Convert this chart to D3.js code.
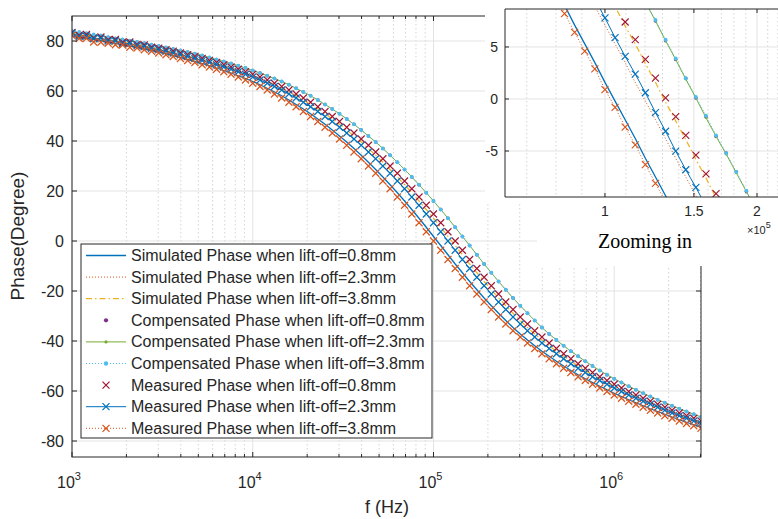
<!DOCTYPE html>
<html>
<head>
<meta charset="utf-8">
<script src="https://cdn.jsdelivr.net/npm/d3@7/dist/d3.min.js"></script>
<style>
  body { margin: 0; background: #fff; }
  svg { font-family: "Liberation Sans", Arial, Helvetica, sans-serif; }
</style>
</head>
<body>
<svg id="chart" width="778" height="519"></svg>
<script>
// ---------- data ----------
// measurement frequencies, 25 per decade
var freqHz = [
  1000, 1096, 1202, 1318, 1445, 1585, 1738, 1905, 2089, 2291, 2512, 2754, 3020, 3311, 3631, 3981, 4365, 4786, 5248, 5754, 6310, 6918, 7586, 8318, 9120,
  10000, 10965, 12023, 13183, 14454, 15849, 17378, 19055, 20893, 22909, 25119, 27542, 30200, 33113, 36308, 39811, 43652, 47863, 52481, 57544, 63096, 69183, 75858, 83176, 91201,
  100000, 109648, 120226, 131826, 144544, 158489, 173780, 190546, 208930, 229087, 251189, 275423, 301995, 331131, 363078, 398107, 436516, 478630, 524807, 575440, 630957, 691831, 758578, 831764, 912011,
  1000000, 1096478, 1202264, 1318257, 1445440, 1584893, 1737801, 1905461, 2089296, 2290868, 2511886, 2754229, 3019952
];

var simPhase08 = [
  81.9, 81.5, 81.0, 80.6, 80.1, 79.6, 79.1, 78.5, 78.0, 77.4,
  76.8, 76.2, 75.6, 74.9, 74.2, 73.4, 72.6, 71.8, 71.0, 70.1,
  69.2, 68.2, 67.2, 66.1, 65.0, 63.8, 62.5, 61.1, 59.6, 58.1,
  56.4, 54.6, 52.8, 50.9, 48.8, 46.7, 44.4, 42.0, 39.6, 37.0,
  34.3, 31.5, 28.6, 25.6, 22.5, 19.3, 16.0, 12.6, 9.1, 5.5,
  1.8, -1.8, -5.5, -9.2, -12.7, -16.2, -19.5, -22.8, -25.9, -28.9,
  -31.8, -34.6, -37.2, -39.6, -41.9, -44.1, -46.1, -48.1, -50.0, -51.8,
  -53.5, -55.1, -56.6, -58.1, -59.5, -60.9, -62.2, -63.5, -64.7, -65.9,
  -67.1, -68.2, -69.3, -70.4, -71.5, -72.5, -73.5, -74.4
];
var simPhase23 = [
  82.6, 82.1, 81.7, 81.3, 80.8, 80.3, 79.8, 79.3, 78.8, 78.3,
  77.7, 77.1, 76.5, 75.9, 75.2, 74.5, 73.8, 73.0, 72.2, 71.4,
  70.5, 69.6, 68.7, 67.7, 66.7, 65.6, 64.4, 63.1, 61.8, 60.4,
  58.8, 57.2, 55.5, 53.7, 51.8, 49.8, 47.8, 45.5, 43.2, 40.8,
  38.3, 35.6, 32.9, 30.0, 27.1, 24.0, 20.9, 17.6, 14.3, 10.8,
  7.3, 3.7, 0.0, -3.7, -7.4, -11.0, -14.5, -17.9, -21.2, -24.4,
  -27.4, -30.4, -33.2, -35.9, -38.4, -40.8, -43.0, -45.1, -47.1, -49.1,
  -50.9, -52.6, -54.3, -55.8, -57.3, -58.8, -60.2, -61.6, -62.9, -64.1,
  -65.3, -66.5, -67.7, -68.8, -69.9, -70.9, -72.0, -73.0
];
var simPhase38 = [
  82.8, 82.3, 81.9, 81.5, 81.0, 80.6, 80.1, 79.6, 79.1, 78.5,
  78.0, 77.4, 76.8, 76.2, 75.6, 74.9, 74.2, 73.4, 72.6, 71.8,
  71.0, 70.1, 69.2, 68.2, 67.2, 66.1, 65.0, 63.8, 62.5, 61.1,
  59.6, 58.1, 56.4, 54.6, 52.8, 50.9, 48.8, 46.7, 44.4, 42.0,
  39.6, 37.0, 34.3, 31.5, 28.6, 25.6, 22.5, 19.3, 16.0, 12.6,
  9.1, 5.5, 1.8, -1.8, -5.5, -9.2, -12.7, -16.2, -19.5, -22.8,
  -25.9, -28.9, -31.8, -34.6, -37.2, -39.6, -41.9, -44.1, -46.1, -48.1,
  -50.0, -51.8, -53.5, -55.1, -56.6, -58.1, -59.5, -60.9, -62.2, -63.5,
  -64.7, -65.9, -67.1, -68.2, -69.3, -70.4, -71.5, -72.5
];
var compPhase08 = [
  83.6, 83.2, 82.8, 82.3, 81.9, 81.5, 81.0, 80.6, 80.1, 79.6,
  79.1, 78.5, 78.0, 77.4, 76.8, 76.2, 75.6, 74.9, 74.2, 73.4,
  72.6, 71.8, 71.0, 70.1, 69.2, 68.2, 67.2, 66.1, 65.0, 63.8,
  62.5, 61.1, 59.6, 58.1, 56.4, 54.6, 52.8, 50.9, 48.8, 46.7,
  44.4, 42.0, 39.6, 37.0, 34.3, 31.5, 28.6, 25.6, 22.5, 19.3,
  16.0, 12.6, 9.1, 5.5, 1.8, -1.8, -5.5, -9.2, -12.7, -16.2,
  -19.5, -22.8, -25.9, -28.9, -31.8, -34.6, -37.2, -39.6, -41.9, -44.1,
  -46.1, -48.1, -50.0, -51.8, -53.5, -55.1, -56.6, -58.1, -59.5, -60.9,
  -62.2, -63.5, -64.7, -65.9, -67.1, -68.2, -69.3, -70.4
];
var compPhase23 = [
  83.6, 83.2, 82.8, 82.3, 81.9, 81.5, 81.0, 80.6, 80.1, 79.6,
  79.1, 78.5, 78.0, 77.4, 76.8, 76.2, 75.6, 74.9, 74.2, 73.4,
  72.6, 71.8, 71.0, 70.1, 69.2, 68.2, 67.2, 66.1, 65.0, 63.8,
  62.5, 61.1, 59.6, 58.1, 56.4, 54.6, 52.8, 50.9, 48.8, 46.7,
  44.4, 42.0, 39.6, 37.0, 34.3, 31.5, 28.6, 25.6, 22.5, 19.3,
  16.0, 12.6, 9.1, 5.5, 1.8, -1.8, -5.5, -9.2, -12.7, -16.2,
  -19.5, -22.8, -25.9, -28.9, -31.8, -34.6, -37.2, -39.6, -41.9, -44.1,
  -46.1, -48.1, -50.0, -51.8, -53.5, -55.1, -56.6, -58.1, -59.5, -60.9,
  -62.2, -63.5, -64.7, -65.9, -67.1, -68.2, -69.3, -70.4
];
var compPhase38 = [
  84.0, 83.6, 83.1, 82.6, 82.2, 81.5, 81.0, 80.6, 80.1, 79.6,
  79.1, 78.5, 78.0, 77.4, 76.8, 76.2, 75.6, 74.9, 74.2, 73.4,
  72.6, 71.8, 71.0, 70.1, 69.2, 68.2, 67.2, 66.1, 65.0, 63.8,
  62.5, 61.1, 59.6, 58.1, 56.4, 54.6, 52.8, 50.9, 48.8, 46.7,
  44.4, 42.0, 39.6, 37.0, 34.3, 31.5, 28.6, 25.6, 22.5, 19.3,
  16.0, 12.6, 9.1, 5.5, 1.8, -1.8, -5.5, -9.2, -12.7, -16.2,
  -19.5, -22.8, -25.9, -28.9, -31.8, -34.6, -37.2, -39.6, -41.9, -44.1,
  -46.1, -48.1, -50.0, -51.8, -53.5, -55.1, -56.6, -58.1, -59.5, -60.9,
  -62.2, -63.5, -64.7, -65.9, -67.1, -68.2, -69.3, -70.4
];
var measPhase08 = [
  83.4, 82.3, 82.6, 81.2, 81.6, 80.5, 80.6, 79.5, 79.6, 78.6,
  78.4, 77.5, 77.1, 76.5, 75.9, 75.2, 74.5, 73.8, 73.0, 72.2,
  71.4, 70.5, 69.6, 68.7, 67.7, 66.7, 65.6, 64.4, 63.1, 61.8,
  60.4, 58.8, 57.2, 55.5, 53.7, 51.8, 49.8, 47.8, 45.5, 43.2,
  40.8, 38.3, 35.6, 32.9, 30.0, 27.1, 24.0, 20.9, 17.6, 14.3,
  10.8, 7.3, 3.7, 0.0, -3.7, -7.4, -11.0, -14.5, -17.9, -21.2,
  -24.4, -27.4, -30.4, -33.2, -35.9, -38.4, -40.8, -43.0, -45.1, -47.1,
  -49.1, -50.9, -52.6, -54.3, -55.8, -57.3, -58.8, -60.2, -61.6, -62.9,
  -64.1, -65.3, -66.5, -67.7, -68.8, -69.9, -70.9, -72.0
];
var measPhase23 = [
  83.1, 81.8, 82.0, 80.9, 81.1, 80.0, 80.1, 79.0, 79.0, 78.1,
  77.8, 77.0, 76.5, 75.9, 75.2, 74.5, 73.8, 73.0, 72.2, 71.4,
  70.5, 69.6, 68.7, 67.7, 66.7, 65.6, 64.4, 63.1, 61.8, 60.4,
  58.8, 57.2, 55.5, 53.7, 51.8, 49.8, 47.8, 45.5, 43.2, 40.8,
  38.3, 35.6, 32.9, 30.0, 27.1, 24.0, 20.9, 17.6, 14.3, 10.8,
  7.3, 3.7, 0.0, -3.7, -7.4, -11.0, -14.5, -17.9, -21.2, -24.4,
  -27.4, -30.4, -33.2, -35.9, -38.4, -40.8, -43.0, -45.1, -47.1, -49.1,
  -50.9, -52.6, -54.3, -55.8, -57.3, -58.8, -60.2, -61.6, -62.9, -64.1,
  -65.3, -66.5, -67.7, -68.8, -69.9, -70.9, -72.0, -73.0
];
var measPhase38 = [
  82.2, 81.0, 81.1, 79.6, 79.5, 79.1, 78.5, 78.4, 77.5, 77.2,
  76.5, 75.9, 75.2, 74.5, 73.8, 73.0, 72.2, 71.4, 70.5, 69.6,
  68.7, 67.7, 66.7, 65.6, 64.4, 63.1, 61.8, 60.4, 58.8, 57.2,
  55.5, 53.7, 51.8, 49.8, 47.8, 45.5, 43.2, 40.8, 38.3, 35.6,
  32.9, 30.0, 27.1, 24.0, 20.9, 17.6, 14.3, 10.8, 7.3, 3.7,
  0.0, -3.7, -7.4, -11.0, -14.5, -17.9, -21.2, -24.4, -27.4, -30.4,
  -33.2, -35.9, -38.4, -40.8, -43.0, -45.1, -47.1, -49.1, -50.9, -52.6,
  -54.3, -55.8, -57.3, -58.8, -60.2, -61.6, -62.9, -64.1, -65.3, -66.5,
  -67.7, -68.8, -69.9, -70.9, -72.0, -73.0, -73.9, -74.9
];

// zoomed window (inset), 50 points per decade around 1e5 Hz
var zoomFreqHz = [75858, 79433, 83176, 87096, 91201, 95499, 100000, 104713, 109648, 114815, 120226, 125893,
  131826, 138038, 144544, 151356, 158489, 165959, 173780, 181970, 190546, 199526, 208930];
var zoomSim08  = [null, 10.8, 9.0, 7.1, 5.3, 3.5, 1.6, -0.2, -2.0, -3.8, -5.7, -7.5, -9.3, -11.2, null, null, null, null, null, null, null, null, null];
var zoomSim23  = [null, null, null, null, 10.8, 8.9, 7.1, 5.3, 3.5, 1.6, -0.2, -2.0, -3.8, -5.7, -7.5, -9.3, -11.1, null, null, null, null, null, null];
var zoomSim38  = [null, null, null, null, null, null, 10.8, 8.9, 7.0, 5.3, 3.4, 1.6, -0.3, -2.1, -3.9, -5.8, -7.6, -9.5, -11.3, null, null, null, null];
var zoomComp08 = [null, null, null, null, null, null, null, null, null, null, 9.4, 7.5, 5.6, 3.8, 2.0, 0.1, -1.7, -3.6, -5.2, -7.0, -8.9, -10.7, null];
var zoomComp23 = [null, null, null, null, null, null, null, null, null, 11.2, 9.3, 7.5, 5.6, 3.8, 1.9, 0.1, -1.8, -3.6, -5.3, -7.1, -8.9, -10.7, null];
var zoomComp38 = [null, null, null, null, null, null, null, null, null, null, 9.4, 7.6, 5.7, 3.9, 2.0, 0.2, -1.6, -3.5, -5.2, -7.0, -8.8, -10.7, null];
var zoomMeas08 = [null, null, null, null, null, null, null, 9.3, 7.4, 5.7, 3.8, 2.0, 0.1, -1.7, -3.5, -5.4, -7.2, -9.1, -10.9, null, null, null, null];
var zoomMeas23 = [null, null, null, null, null, 9.6, 7.8, 5.9, 4.1, 2.4, 0.6, -1.3, -3.1, -5.0, -6.8, -8.5, -10.3, null, null, null, null, null, null];
var zoomMeas38 = [null, 10.1, 8.2, 6.4, 4.6, 2.9, 0.9, -0.8, -2.7, -4.4, -6.3, -8.1, -9.9, null, null, null, null, null, null, null, null, null, null];

var yTicks = [-80, -60, -40, -20, 0, 20, 40, 60, 80];
var xDecades = [3, 4, 5, 6];
var zoomXTicks = [1e5, 1.5e5, 2e5];
var zoomXTickLabels = ['1', '1.5', '2'];
var zoomYTicks = [-5, 0, 5];

// ---------- styles per series (legend order = draw order) ----------
var series = [
  { label: 'Simulated Phase when lift-off=0.8mm',   main: simPhase08,  zoom: zoomSim08,  color: '#0072BD', line: true,  dash: null,        mark: null, lw: 1.3 },
  { label: 'Simulated Phase when lift-off=2.3mm',   main: simPhase23,  zoom: zoomSim23,  color: '#D95319', line: true,  dash: '1,2',       mark: null },
  { label: 'Simulated Phase when lift-off=3.8mm',   main: simPhase38,  zoom: zoomSim38,  color: '#EDB120', line: true,  dash: '6,3,1.5,3', mark: null, lw: 1.2 },
  { label: 'Compensated Phase when lift-off=0.8mm', main: compPhase08, zoom: zoomComp08, color: '#7E2F8E', line: false, dash: null,        mark: 'dot', r: 1.8 },
  { label: 'Compensated Phase when lift-off=2.3mm', main: compPhase23, zoom: zoomComp23, color: '#77AC30', line: true,  dash: null,        mark: 'dot', r: 1.3 },
  { label: 'Compensated Phase when lift-off=3.8mm', main: compPhase38, zoom: zoomComp38, color: '#4DBEEE', line: true,  dash: '1,2',       mark: 'dot', r: 1.9 },
  { label: 'Measured Phase when lift-off=0.8mm',    main: measPhase08, zoom: zoomMeas08, color: '#A2142F', line: false, dash: null,        mark: 'x' },
  { label: 'Measured Phase when lift-off=2.3mm',    main: measPhase23, zoom: zoomMeas23, color: '#0072BD', line: true,  dash: null,        mark: 'x' },
  { label: 'Measured Phase when lift-off=3.8mm',    main: measPhase38, zoom: zoomMeas38, color: '#D95319', line: true,  dash: '1,2',       mark: 'x' }
];

var axisColor = '#262626';
var gridColor = '#e3e3e3';
var minorGridColor = '#c9c9c9';

var svg = d3.select('#chart');

// ---------- main axes ----------
var plot = { left: 72, right: 701, top: 16, bottom: 457 };
var x = d3.scaleLog().domain([1e3, 3019952]).range([plot.left, plot.right]);
var y = d3.scaleLinear().domain([-86.4, 90]).range([plot.bottom, plot.top]);

svg.append('defs').append('clipPath').attr('id', 'clipMain')
  .append('rect').attr('x', plot.left).attr('y', plot.top)
  .attr('width', plot.right - plot.left).attr('height', plot.bottom - plot.top);

var xAll = x.ticks(); // 1..9 x 10^k
var isMajor = function(v) { return Math.abs(Math.log10(v) - Math.round(Math.log10(v))) < 1e-6; };

var grid = svg.append('g');
grid.selectAll('.minor').data(xAll.filter(function(v) { return !isMajor(v); })).enter()
  .append('line')
  .attr('x1', function(d) { return x(d); }).attr('x2', function(d) { return x(d); })
  .attr('y1', plot.top).attr('y2', plot.bottom)
  .attr('stroke', minorGridColor).attr('stroke-width', 0.8).attr('stroke-dasharray', '1.5,2.5');
grid.selectAll('.major').data(xAll.filter(isMajor)).enter()
  .append('line')
  .attr('x1', function(d) { return x(d); }).attr('x2', function(d) { return x(d); })
  .attr('y1', plot.top).attr('y2', plot.bottom)
  .attr('stroke', gridColor).attr('stroke-width', 1);
grid.selectAll('.hgrid').data(yTicks).enter()
  .append('line')
  .attr('x1', plot.left).attr('x2', plot.right)
  .attr('y1', function(d) { return y(d); }).attr('y2', function(d) { return y(d); })
  .attr('stroke', gridColor).attr('stroke-width', 1);

// draw one set of series into a group with given scales
function drawSeries(g, xs, ys, freqs, key, markSize) {
  series.forEach(function(s) {
    var pts = freqs.map(function(f, i) { return { f: f, v: s[key][i] }; })
      .filter(function(p) { return p.v !== null && p.v !== undefined; });
    if (s.line) {
      g.append('path').datum(pts)
        .attr('fill', 'none')
        .attr('stroke', s.color)
        .attr('stroke-width', s.lw || 1)
        .attr('stroke-dasharray', s.dash)
        .attr('d', d3.line().x(function(p) { return xs(p.f); }).y(function(p) { return ys(p.v); }));
    }
    if (s.mark === 'dot') {
      g.selectAll(null).data(pts).enter().append('circle')
        .attr('cx', function(p) { return xs(p.f); })
        .attr('cy', function(p) { return ys(p.v); })
        .attr('r', s.r)
        .attr('fill', s.color);
    } else if (s.mark === 'x') {
      var m = markSize;
      g.selectAll(null).data(pts).enter().append('path')
        .attr('transform', function(p) { return 'translate(' + xs(p.f) + ',' + ys(p.v) + ')'; })
        .attr('d', 'M' + (-m) + ',' + (-m) + 'L' + m + ',' + m + 'M' + (-m) + ',' + m + 'L' + m + ',' + (-m))
        .attr('stroke', s.color)
        .attr('stroke-width', 1.1)
        .attr('fill', 'none');
    }
  });
}

var mainData = svg.append('g').attr('clip-path', 'url(#clipMain)');
drawSeries(mainData, x, y, freqHz, 'main', 3.5);

// main axes box and ticks
var ax = svg.append('g').attr('stroke', axisColor).attr('stroke-width', 1).attr('fill', 'none');
ax.append('rect').attr('x', plot.left).attr('y', plot.top)
  .attr('width', plot.right - plot.left).attr('height', plot.bottom - plot.top);
xAll.forEach(function(v) {
  var len = isMajor(v) ? 5 : 3;
  ax.append('line').attr('x1', x(v)).attr('x2', x(v)).attr('y1', plot.bottom).attr('y2', plot.bottom - len);
  ax.append('line').attr('x1', x(v)).attr('x2', x(v)).attr('y1', plot.top).attr('y2', plot.top + len);
});
yTicks.forEach(function(v) {
  ax.append('line').attr('x1', plot.left).attr('x2', plot.left + 5).attr('y1', y(v)).attr('y2', y(v));
  ax.append('line').attr('x1', plot.right).attr('x2', plot.right - 5).attr('y1', y(v)).attr('y2', y(v));
});

// tick labels
var labels = svg.append('g').attr('fill', axisColor).attr('font-size', 16);
labels.selectAll('.ylab').data(yTicks).enter().append('text')
  .attr('x', plot.left - 8).attr('y', function(d) { return y(d) + 6; })
  .attr('text-anchor', 'end')
  .text(function(d) { return d; });
xDecades.forEach(function(k) {
  var t = labels.append('text').attr('x', x(Math.pow(10, k)) - 3).attr('y', 488).attr('text-anchor', 'middle');
  t.append('tspan').text('10');
  t.append('tspan').attr('dy', -8).attr('font-size', 11).text(k);
});
labels.append('text').attr('x', 387).attr('y', 513).attr('text-anchor', 'middle')
  .attr('font-size', 18).text('f (Hz)');
labels.append('text').attr('transform', 'translate(24,236) rotate(-90)').attr('text-anchor', 'middle')
  .attr('font-size', 19).text('Phase(Degree)');

// ---------- legend ----------
var leg = { x: 81, y: 244, w: 351, h: 194, row: 21.6 };
var lg = svg.append('g');
lg.append('rect').attr('x', leg.x).attr('y', leg.y).attr('width', leg.w).attr('height', leg.h)
  .attr('fill', '#fff').attr('stroke', axisColor).attr('stroke-width', 1);
series.forEach(function(s, i) {
  var cy = leg.y + 11.5 + i * leg.row;
  if (s.line) {
    lg.append('line').attr('x1', 86).attr('x2', 126).attr('y1', cy).attr('y2', cy)
      .attr('stroke', s.color).attr('stroke-width', s.lw || 1).attr('stroke-dasharray', s.dash);
  }
  if (s.mark === 'dot') {
    lg.append('circle').attr('cx', 106).attr('cy', cy).attr('r', s.r + 0.3).attr('fill', s.color);
  } else if (s.mark === 'x') {
    lg.append('path').attr('transform', 'translate(106,' + cy + ')')
      .attr('d', 'M-3.5,-3.5L3.5,3.5M-3.5,3.5L3.5,-3.5')
      .attr('stroke', s.color).attr('stroke-width', 1.2);
  }
  lg.append('text').attr('x', 131).attr('y', cy + 5.5).attr('font-size', 16).attr('fill', axisColor)
    .text(s.label);
});

// ---------- inset (zoomed window) ----------
// white backing of the pasted inset picture
svg.append('rect').attr('x', 485).attr('y', 0).attr('width', 293).attr('height', 203).attr('fill', '#fff');
svg.append('rect').attr('x', 537).attr('y', 203).attr('width', 241).attr('height', 63).attr('fill', '#fff');

var box = { left: 505, right: 800, top: 9, bottom: 197 };
var xi = d3.scaleLog().domain([63400, 243300]).range([box.left, box.right]);
var yi = d3.scaleLinear().domain([-9.42, 8.65]).range([box.bottom, box.top]);

svg.select('defs').append('clipPath').attr('id', 'clipInset')
  .append('rect').attr('x', box.left).attr('y', box.top)
  .attr('width', box.right - box.left).attr('height', box.bottom - box.top);

var ig = svg.append('g');
var zMinor = d3.range(7, 25).map(function(k) { return k * 1e4; })
  .filter(function(v) { return zoomXTicks.indexOf(v) < 0; });
ig.selectAll('.zminor').data(zMinor).enter().append('line')
  .attr('x1', function(d) { return xi(d); }).attr('x2', function(d) { return xi(d); })
  .attr('y1', box.top).attr('y2', box.bottom)
  .attr('stroke', minorGridColor).attr('stroke-width', 0.8).attr('stroke-dasharray', '1.5,2.5');
ig.selectAll('.zmajor').data(zoomXTicks).enter().append('line')
  .attr('x1', function(d) { return xi(d); }).attr('x2', function(d) { return xi(d); })
  .attr('y1', box.top).attr('y2', box.bottom)
  .attr('stroke', gridColor).attr('stroke-width', 1);
ig.selectAll('.zh').data(zoomYTicks).enter().append('line')
  .attr('x1', box.left).attr('x2', box.right)
  .attr('y1', function(d) { return yi(d); }).attr('y2', function(d) { return yi(d); })
  .attr('stroke', gridColor).attr('stroke-width', 1);

var insetData = svg.append('g').attr('clip-path', 'url(#clipInset)');
drawSeries(insetData, xi, yi, zoomFreqHz, 'zoom', 3.5);

var iax = svg.append('g').attr('stroke', axisColor).attr('stroke-width', 1).attr('fill', 'none');
iax.append('path').attr('d', 'M' + box.right + ',' + box.top + 'H' + box.left + 'V' + box.bottom + 'H' + box.right);
zoomXTicks.forEach(function(v) {
  iax.append('line').attr('x1', xi(v)).attr('x2', xi(v)).attr('y1', box.bottom).attr('y2', box.bottom - 4);
  iax.append('line').attr('x1', xi(v)).attr('x2', xi(v)).attr('y1', box.top).attr('y2', box.top + 4);
});
zoomYTicks.forEach(function(v) {
  iax.append('line').attr('x1', box.left).attr('x2', box.left + 4).attr('y1', yi(v)).attr('y2', yi(v));
});

var il = svg.append('g').attr('fill', axisColor).attr('font-size', 14);
il.selectAll('.zxl').data(zoomXTicks).enter().append('text')
  .attr('x', function(d) { return xi(d); }).attr('y', 216).attr('text-anchor', 'middle')
  .text(function(d, i) { return zoomXTickLabels[i]; });
il.selectAll('.zyl').data(zoomYTicks).enter().append('text')
  .attr('x', box.left - 7).attr('y', function(d) { return yi(d) + 5; }).attr('text-anchor', 'end')
  .text(function(d) { return d; });
var ex = il.append('text').attr('x', 747).attr('y', 234).attr('font-size', 11);
ex.append('tspan').text('\u00d710');
ex.append('tspan').attr('dy', -6).attr('font-size', 9).text('5');

svg.append('text').attr('x', 645).attr('y', 248).attr('text-anchor', 'middle')
  .attr('font-family', '"Liberation Serif", "Times New Roman", serif')
  .attr('font-size', 20).attr('fill', '#000').text('Zooming in');
</script>
</body>
</html>
